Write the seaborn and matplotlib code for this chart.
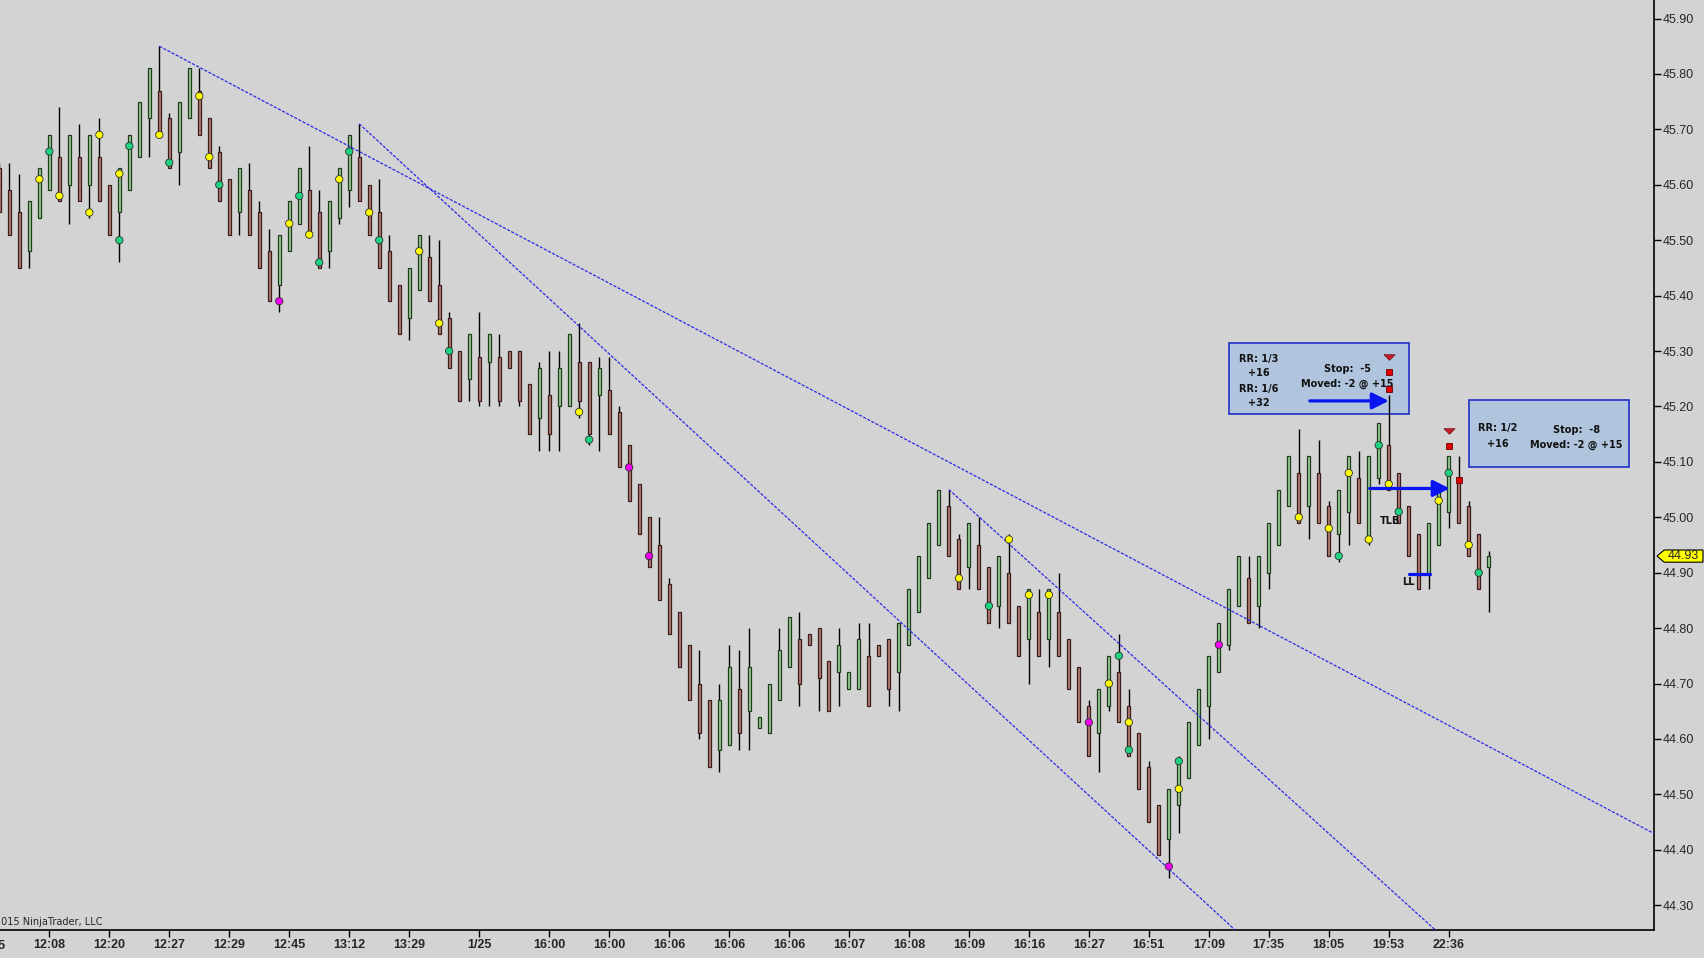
import matplotlib
matplotlib.use("Agg")
import matplotlib.pyplot as plt
import matplotlib.transforms as mtransforms
from matplotlib.patches import Polygon, Rectangle
import numpy as np
import pandas as pd
import seaborn as sns

# ---- bars (one per slot, left to right), u = up bar, d = down bar ----
directions = "".join([
    "ddduuududu", "dduuuudduu", "dddduddduu", "udduuudddd", "duuddddudu",
    "dddduduudd", "uddddddddd", "dduuduuuuu", "dddduuuddd", "uuuuuddudd",
    "uddududddd", "uuddddduuu", "uuuuuduuuu", "dudduuduud", "ddduuudddu",
])

body_top = [
    45.63, 45.59, 45.55, 45.57, 45.63, 45.69, 45.65, 45.69, 45.65, 45.69,
    45.65, 45.60, 45.63, 45.69, 45.75, 45.81, 45.77, 45.72, 45.75, 45.81,
    45.77, 45.72, 45.66, 45.61, 45.63, 45.59, 45.55, 45.48, 45.51, 45.57,
    45.63, 45.59, 45.55, 45.57, 45.63, 45.69, 45.65, 45.60, 45.55, 45.48,
    45.42, 45.45, 45.51, 45.47, 45.42, 45.36, 45.30, 45.33, 45.29, 45.33,
    45.29, 45.30, 45.30, 45.24, 45.27, 45.22, 45.27, 45.33, 45.28, 45.28,
    45.27, 45.23, 45.19, 45.13, 45.06, 45.00, 44.95, 44.88, 44.83, 44.77,
    44.70, 44.67, 44.67, 44.73, 44.69, 44.73, 44.64, 44.70, 44.76, 44.82,
    44.78, 44.79, 44.80, 44.74, 44.77, 44.72, 44.78, 44.75, 44.77, 44.78,
    44.81, 44.87, 44.93, 44.99, 45.05, 45.02, 44.96, 44.99, 44.95, 44.91,
    44.93, 44.90, 44.84, 44.87, 44.83, 44.87, 44.83, 44.78, 44.73, 44.66,
    44.69, 44.75, 44.72, 44.66, 44.61, 44.55, 44.48, 44.51, 44.56, 44.63,
    44.69, 44.75, 44.81, 44.87, 44.93, 44.89, 44.93, 44.99, 45.05, 45.11,
    45.08, 45.11, 45.08, 45.02, 45.05, 45.11, 45.07, 45.11, 45.17, 45.13,
    45.08, 45.02, 44.97, 44.99, 45.05, 45.11, 45.07, 45.02, 44.97, 44.93,
]
body_bot = [
    45.55, 45.51, 45.45, 45.48, 45.54, 45.59, 45.57, 45.60, 45.57, 45.60,
    45.57, 45.51, 45.55, 45.59, 45.65, 45.72, 45.69, 45.63, 45.66, 45.72,
    45.69, 45.63, 45.57, 45.51, 45.55, 45.51, 45.45, 45.39, 45.42, 45.48,
    45.53, 45.51, 45.45, 45.48, 45.54, 45.59, 45.57, 45.51, 45.45, 45.39,
    45.33, 45.36, 45.41, 45.39, 45.33, 45.27, 45.21, 45.25, 45.21, 45.28,
    45.21, 45.27, 45.21, 45.15, 45.18, 45.15, 45.20, 45.20, 45.21, 45.15,
    45.22, 45.15, 45.09, 45.03, 44.97, 44.91, 44.85, 44.79, 44.73, 44.67,
    44.61, 44.55, 44.58, 44.59, 44.61, 44.65, 44.62, 44.61, 44.67, 44.73,
    44.70, 44.77, 44.71, 44.65, 44.72, 44.69, 44.69, 44.66, 44.75, 44.69,
    44.72, 44.77, 44.83, 44.89, 44.95, 44.93, 44.87, 44.91, 44.87, 44.81,
    44.84, 44.81, 44.75, 44.78, 44.75, 44.78, 44.75, 44.69, 44.63, 44.57,
    44.61, 44.66, 44.63, 44.57, 44.51, 44.45, 44.39, 44.42, 44.48, 44.53,
    44.59, 44.66, 44.72, 44.77, 44.84, 44.81, 44.84, 44.90, 44.95, 45.02,
    44.99, 45.02, 44.99, 44.93, 44.97, 45.01, 44.99, 44.96, 45.07, 45.05,
    44.99, 44.93, 44.87, 44.90, 44.95, 45.01, 44.99, 44.93, 44.87, 44.91,
]
highs = [
    45.64, 45.64, 45.62, 45.57, 45.63, 45.69, 45.74, 45.69, 45.71, 45.69,
    45.72, 45.60, 45.63, 45.69, 45.75, 45.81, 45.85, 45.73, 45.75, 45.81,
    45.81, 45.72, 45.67, 45.61, 45.63, 45.64, 45.57, 45.52, 45.51, 45.57,
    45.63, 45.67, 45.59, 45.57, 45.63, 45.69, 45.71, 45.60, 45.61, 45.51,
    45.42, 45.45, 45.51, 45.51, 45.50, 45.37, 45.30, 45.33, 45.37, 45.33,
    45.33, 45.30, 45.30, 45.24, 45.28, 45.30, 45.30, 45.33, 45.35, 45.28,
    45.29, 45.29, 45.20, 45.13, 45.06, 45.00, 45.00, 44.89, 44.83, 44.77,
    44.76, 44.67, 44.70, 44.77, 44.76, 44.80, 44.64, 44.70, 44.80, 44.82,
    44.83, 44.79, 44.80, 44.74, 44.80, 44.72, 44.81, 44.81, 44.77, 44.78,
    44.81, 44.87, 44.93, 44.99, 45.05, 45.05, 44.97, 44.99, 45.00, 44.91,
    44.93, 44.97, 44.84, 44.87, 44.87, 44.87, 44.90, 44.78, 44.73, 44.67,
    44.69, 44.75, 44.79, 44.69, 44.61, 44.56, 44.48, 44.51, 44.57, 44.63,
    44.69, 44.75, 44.81, 44.87, 44.93, 44.93, 44.93, 44.99, 45.05, 45.11,
    45.16, 45.11, 45.14, 45.03, 45.05, 45.11, 45.12, 45.11, 45.17, 45.22,
    45.08, 45.02, 44.97, 44.99, 45.05, 45.11, 45.11, 45.03, 44.97, 44.94,
]
lows = [
    45.55, 45.51, 45.45, 45.45, 45.54, 45.59, 45.57, 45.53, 45.57, 45.54,
    45.57, 45.51, 45.46, 45.59, 45.65, 45.65, 45.69, 45.63, 45.60, 45.72,
    45.69, 45.63, 45.57, 45.51, 45.51, 45.51, 45.45, 45.39, 45.37, 45.48,
    45.53, 45.51, 45.45, 45.45, 45.53, 45.56, 45.57, 45.51, 45.45, 45.39,
    45.33, 45.32, 45.41, 45.39, 45.33, 45.27, 45.21, 45.21, 45.20, 45.20,
    45.20, 45.27, 45.20, 45.15, 45.12, 45.12, 45.12, 45.20, 45.18, 45.13,
    45.12, 45.15, 45.09, 45.03, 44.97, 44.91, 44.85, 44.79, 44.73, 44.67,
    44.60, 44.55, 44.54, 44.59, 44.58, 44.58, 44.62, 44.61, 44.67, 44.73,
    44.66, 44.77, 44.65, 44.65, 44.66, 44.69, 44.69, 44.66, 44.75, 44.66,
    44.65, 44.77, 44.83, 44.89, 44.95, 44.93, 44.87, 44.87, 44.87, 44.81,
    44.80, 44.81, 44.75, 44.70, 44.75, 44.73, 44.75, 44.69, 44.63, 44.57,
    44.54, 44.65, 44.63, 44.57, 44.51, 44.45, 44.39, 44.35, 44.43, 44.53,
    44.59, 44.60, 44.72, 44.76, 44.84, 44.81, 44.80, 44.87, 44.95, 45.02,
    44.99, 44.96, 44.99, 44.93, 44.92, 44.95, 44.99, 44.95, 45.06, 45.05,
    44.99, 44.93, 44.87, 44.87, 44.95, 44.98, 44.99, 44.93, 44.87, 44.83,
]

# ---- indicator dots: (bar, price) ----
yellow_dots = [
    (4, 45.61), (6, 45.58), (9, 45.55), (10, 45.69), (12, 45.62), (16, 45.69),
    (20, 45.76), (21, 45.65), (29, 45.53), (31, 45.51), (34, 45.61), (37, 45.55),
    (42, 45.48), (44, 45.35), (58, 45.19), (96, 44.89), (101, 44.96), (103, 44.86),
    (105, 44.86), (111, 44.70), (113, 44.63), (118, 44.51), (130, 45.00),
    (133, 44.98), (135, 45.08), (137, 44.96), (139, 45.06), (144, 45.03), (147, 44.95),
]
green_dots = [
    (5, 45.66), (12, 45.50), (13, 45.67), (17, 45.64), (22, 45.60), (30, 45.58),
    (32, 45.46), (35, 45.66), (38, 45.50), (45, 45.30), (59, 45.14), (99, 44.84),
    (112, 44.75), (113, 44.58), (118, 44.56), (134, 44.93), (138, 45.13),
    (140, 45.01), (145, 45.08), (148, 44.90),
]
magenta_dots = [(28, 45.39), (63, 45.09), (65, 44.93), (109, 44.63), (117, 44.37), (122, 44.77)]

# ---- trend lines: start bar (at its high) and slope per bar ----
trend_start = [16, 36, 95]
trend_slope = [-0.0095, -0.0166, -0.01633]

# ---- x axis labels ----
tick_bars = [5, 11, 17, 23, 29, 35, 41, 48, 55, 61, 67, 73, 79, 85, 91, 97,
             103, 109, 115, 121, 127, 133, 139, 145]
tick_labels = ["12:08", "12:20", "12:27", "12:29", "12:45", "13:12", "13:29", "1/25",
               "16:00", "16:00", "16:06", "16:06", "16:06", "16:07", "16:08", "16:09",
               "16:16", "16:27", "16:51", "17:09", "17:35", "18:05", "19:53", "22:36"]
y_ticks = [round(44.3 + 0.1 * i, 2) for i in range(17)]

# ---- trade annotations ----
stop_triangles = [(139, 45.290), (145, 45.155)]
stop_squares = [(139, 45.262), (139, 45.231), (145, 45.129), (146, 45.068)]
last_price = 44.93

BG = "#D3D3D3"
BLUE = "#0A14F0"
sns.set_theme(style="ticks", rc={"axes.facecolor": BG, "figure.facecolor": BG})
plt.rcParams["font.family"] = ["Liberation Sans", "DejaVu Sans"]

fig = plt.figure(figsize=(17.04, 9.58), dpi=100)
ax = fig.add_axes([0, 28 / 958, 1654 / 1704, 930 / 958])
ax.set_facecolor(BG)

bars = np.arange(len(highs))
top = np.array(body_top)
bot = np.array(body_bot)
up = np.array([c == "u" for c in directions])

ax.vlines(bars, lows, highs, color="black", lw=1.0, zorder=2)
ax.bar(bars[up], (top - bot)[up], bottom=bot[up], width=0.3,
       color="#9CCB94", edgecolor="#1E3B1E", lw=0.9, zorder=3)
ax.bar(bars[~up], (top - bot)[~up], bottom=bot[~up], width=0.3,
       color="#B27E76", edgecolor="#3B1C1C", lw=0.9, zorder=3)

# trend lines
for s, m in zip(trend_start, trend_slope):
    xs = np.array([s, 170])
    ax.plot(xs, highs[s] + m * (xs - s), color="#2A2AE6", lw=0.9,
            ls=(0, (2.5, 1.2)), zorder=4)

dots = pd.DataFrame(
    [(b, p, "yellow") for b, p in yellow_dots]
    + [(b, p, "green") for b, p in green_dots]
    + [(b, p, "magenta") for b, p in magenta_dots],
    columns=["bar", "price", "kind"],
)
sns.scatterplot(data=dots, x="bar", y="price", hue="kind",
                palette={"yellow": "#FFFF00", "green": "#1CD381", "magenta": "#F000F0"},
                s=28, edgecolor="#303030", linewidth=0.6, legend=False, zorder=6, ax=ax)

# info boxes
ax.add_patch(Rectangle((123.0, 45.186), 18.0, 0.128, fc="#B0C4DE", ec="#2030C8", lw=1.2, zorder=1))
ax.add_patch(Rectangle((147.0, 45.090), 16.0, 0.121, fc="#B0C4DE", ec="#2030C8", lw=1.2, zorder=1))
box_font = dict(family="DejaVu Sans", fontweight="bold", fontsize=7, color="#111111",
                ha="center", va="center", zorder=7)
ax.text(126.0, 45.286, "RR: 1/3", **box_font)
ax.text(126.0, 45.260, "+16", **box_font)
ax.text(126.0, 45.231, "RR: 1/6", **box_font)
ax.text(126.0, 45.207, "+32", **box_font)
ax.text(134.9, 45.268, "Stop:  -5", **box_font)
ax.text(134.9, 45.241, "Moved: -2 @ +15", **box_font)
ax.text(149.9, 45.162, "RR: 1/2", **box_font)
ax.text(149.9, 45.133, "+16", **box_font)
ax.text(157.8, 45.158, "Stop:  -8", **box_font)
ax.text(157.8, 45.130, "Moved: -2 @ +15", **box_font)
ax.text(139.1, 44.993, "TLB", **box_font)
ax.text(141.0, 44.883, "LL", **box_font)

arrow_kw = dict(arrowstyle="-|>,head_length=1.0,head_width=0.5", color=BLUE, lw=2.3,
                shrinkA=0, shrinkB=0, mutation_scale=10)
ax.annotate("", xy=(139.0, 45.210), xytext=(131.1, 45.210), arrowprops=arrow_kw, zorder=6)
ax.annotate("", xy=(145.1, 45.052), xytext=(137.1, 45.052), arrowprops=arrow_kw, zorder=6)
ax.plot([141.0, 143.1], [44.897, 44.897], color=BLUE, lw=2.3, zorder=6)

# flat downward triangles and small squares for stops
flat_tri = [(-1, 0.5), (1, 0.5), (0, -0.5), (-1, 0.5)]
tx, ty = zip(*stop_triangles)
ax.plot(tx, ty, marker=flat_tri, ms=8, mfc="#C81E2A", mec="#6A1010", mew=0.5, ls="none", zorder=7)
sx, sy = zip(*stop_squares)
ax.plot(sx, sy, "s", ms=4.5, mfc="#E00000", mec="#6A0000", mew=0.6, ls="none", zorder=7)

# axes
ax.set_xlim(0.06, 165.54)
ax.set_ylim(44.2553, 45.9334)
ax.set_xticks(tick_bars)
ax.set_xticklabels(tick_labels, fontweight="bold", fontsize=9)
ax.set_yticks(y_ticks)
ax.set_yticklabels([f"{v:.2f}" for v in y_ticks], fontsize=9)
ax.yaxis.tick_right()
for side in ["top", "left"]:
    ax.spines[side].set_visible(False)
for side in ["right", "bottom"]:
    ax.spines[side].set_color("black")
    ax.spines[side].set_linewidth(1.2)
ax.tick_params(axis="x", direction="out", length=5, width=1, color="black", pad=1.5)
ax.tick_params(axis="y", direction="out", length=5, width=1, color="black", pad=1.5)
ax.set_xlabel("")
ax.set_ylabel("")

# cut-off first label and copyright
ax.text(-1, -0.011, "12:05", transform=mtransforms.blended_transform_factory(ax.transData, ax.transAxes),
        ha="center", va="top", fontsize=9, fontweight="bold", clip_on=False)
fig.text(103 / 1704, 1 - 927 / 958, "\u00a9 2015 NinjaTrader, LLC", ha="right", va="bottom",
         fontsize=7, family="DejaVu Sans")

# last price tag
tr = mtransforms.blended_transform_factory(ax.transAxes, ax.transData)
ax.add_patch(Polygon([(1.0018, last_price), (1.0062, last_price + 0.011), (1.0296, last_price + 0.011),
                      (1.0296, last_price - 0.011), (1.0062, last_price - 0.011)],
                     closed=True, fc="#FFFF00", ec="black", lw=0.8, transform=tr, clip_on=False, zorder=8))
ax.text(1.018, last_price, f"{last_price:.2f}", transform=tr, ha="center", va="center",
        fontsize=9, clip_on=False, zorder=9)

fig.savefig("out.png", dpi=100, facecolor=BG)
